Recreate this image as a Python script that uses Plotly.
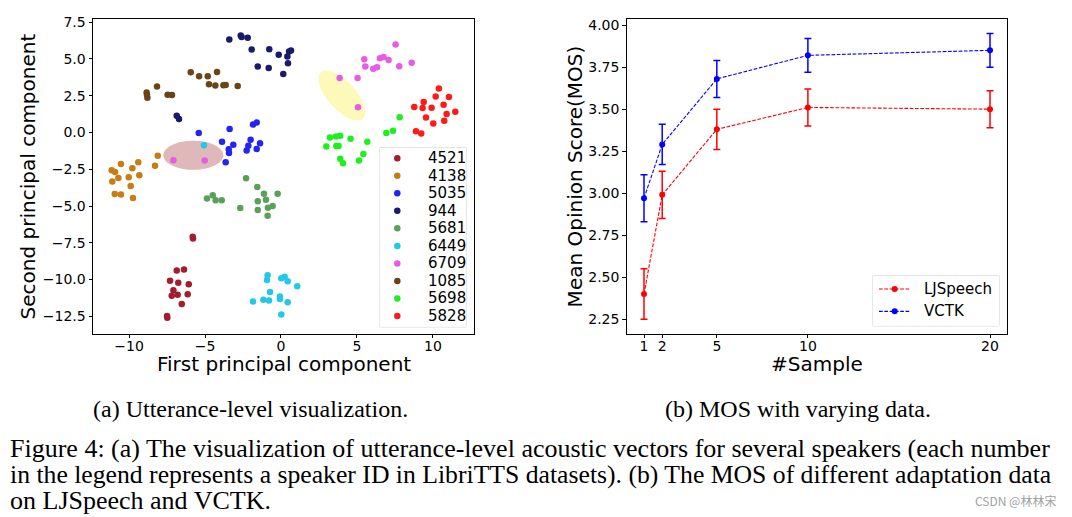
import math
import plotly.graph_objects as go

# The page body has an 8px margin, so the figure is placed at (8, 8) in the window.
# All positions below are given in window pixels and converted with OX/OY.
WIN_W, WIN_H = 1072, 517
OX, OY = 8, 8
W, H = WIN_W - OX, WIN_H - OY

# ---------------- data: left panel (PCA of utterance vectors) ----------------
speakers = ["4521", "4138", "5035", "944", "5681", "6449", "6709", "1085", "5698", "5828"]
colors = ["#a51c30", "#c97c14", "#2424f2", "#1a1a6c", "#59a059", "#22c9e6",
          "#e65ce6", "#6a4416", "#1ef01e", "#ff1a1a"]

x_4521 = [-5.81, -5.79, -6.86, -6.38, -7.30, -6.76, -6.07, -7.08, -7.19, -6.80, -6.14, -6.53, -7.50, -7.48]
y_4521 = [-7.09, -7.21, -9.38, -9.31, -10.08, -10.21, -10.32, -10.73, -11.11, -11.04, -11.00, -11.67, -12.48, -12.59]

x_4138 = [-8.11, -8.29, -10.53, -9.39, -9.78, -11.14, -10.92, -9.32, -10.02, -10.70, -11.10, -9.89, -10.94, -10.53, -9.74]
y_4138 = [-1.59, -2.26, -2.15, -2.02, -2.44, -2.56, -2.69, -2.90, -3.05, -3.10, -3.34, -3.64, -4.18, -4.22, -4.46]

x_5035 = [-5.41, -3.38, -1.84, -1.60, -3.88, -3.14, -3.44, -3.42, -3.64, -2.00, -1.38, -2.15, -2.26, -1.60]
y_5035 = [-0.04, 0.23, 0.54, 0.67, -0.63, -0.83, -1.14, -1.39, -2.02, -0.49, -0.74, -0.90, -1.23, -1.12]

x_944 = [-3.40, -2.65, -2.59, -2.19, -1.93, -0.77, -0.15, 0.42, 0.53, 0.66, 0.46, -1.53, -0.81, 0.15, -6.86, -6.71]
y_944 = [6.33, 6.60, 6.49, 6.44, 5.64, 5.66, 5.28, 5.16, 5.50, 5.57, 4.71, 4.49, 4.38, 3.97, 1.14, 0.92]

x_5681 = [-2.30, -1.56, -1.12, -0.22, -1.53, -0.99, -0.55, -0.86, -2.68, -1.53, -0.88, -4.87, -4.49, -4.30, -3.90]
y_5681 = [-3.12, -3.70, -4.17, -4.17, -4.67, -4.58, -5.00, -5.12, -5.14, -5.27, -5.66, -4.49, -4.26, -4.60, -4.60]

x_6449 = [-0.88, -0.92, 0.02, 0.24, 0.44, 1.07, -0.72, -0.07, -0.07, -1.16, -0.79, -1.84, 0.44, 0.02, -5.07]
y_6449 = [-9.70, -10.03, -9.92, -9.81, -10.12, -10.46, -10.84, -11.15, -11.33, -11.38, -11.42, -11.49, -11.54, -12.37, -0.87]

x_6709 = [7.54, 5.48, 6.51, 6.75, 7.08, 5.55, 6.07, 6.32, 7.78, 8.60, 3.86, 5.04, 5.07, -7.08, -5.02]
y_6709 = [5.99, 4.98, 5.05, 5.14, 4.92, 4.49, 4.34, 4.44, 4.51, 4.74, 3.70, 3.70, 1.71, -1.88, -1.91]

x_1085 = [-5.94, -5.39, -4.82, -4.21, -4.74, -4.32, -3.79, -3.64, -2.85, -8.16, -8.84, -8.82, -8.79, -7.46, -7.17]
y_1085 = [4.09, 3.82, 3.82, 4.11, 3.28, 3.19, 3.21, 3.23, 3.16, 3.12, 2.72, 2.56, 2.36, 2.56, 2.54]

x_5698 = [7.81, 7.37, 6.93, 5.68, 4.58, 3.90, 3.62, 3.22, 2.98, 3.64, 3.79, 5.42, 3.90, 4.08, 5.13]
y_5698 = [1.04, 0.11, -0.04, -0.63, -0.42, -0.22, -0.27, -0.34, -0.96, -0.92, -0.92, -1.46, -1.79, -2.09, -1.91]

x_5828 = [10.39, 10.18, 11.05, 9.39, 8.77, 9.32, 9.91, 10.70, 11.47, 10.90, 9.54, 10.74, 10.02, 8.88, 9.23]
y_5828 = [2.99, 2.45, 2.42, 2.07, 1.73, 1.66, 1.68, 1.89, 1.41, 1.26, 1.01, 0.79, 0.61, 0.09, -0.07]

xs = [x_4521, x_4138, x_5035, x_944, x_5681, x_6449, x_6709, x_1085, x_5698, x_5828]
ys = [y_4521, y_4138, y_5035, y_944, y_5681, y_6449, y_6709, y_1085, y_5698, y_5828]

left_xticks = [-10, -5, 0, 5, 10]
left_xticklabels = ["\u221210", "\u22125", "0", "5", "10"]
left_yticks = [7.5, 5.0, 2.5, 0.0, -2.5, -5.0, -7.5, -10.0, -12.5]
left_yticklabels = ["7.5", "5.0", "2.5", "0.0", "\u22122.5", "\u22125.0", "\u22127.5", "\u221210.0", "\u221212.5"]

# ---------------- data: right panel (MOS) ----------------
samples = [1, 2, 5, 10, 20]
series_names = ["LJSpeech", "VCTK"]
series_colors = ["#ff0000", "#0000ff"]
mos_ljspeech = [2.40, 2.99, 3.38, 3.51, 3.50]
err_ljspeech = [0.15, 0.14, 0.12, 0.11, 0.11]
mos_vctk = [2.97, 3.29, 3.68, 3.82, 3.85]
err_vctk = [0.14, 0.12, 0.11, 0.10, 0.10]
right_yticks = [2.25, 2.50, 2.75, 3.00, 3.25, 3.50, 3.75, 4.00]

# ---------------- layout geometry (window pixels) ----------------
L_X0, L_X1, L_Y0, L_Y1 = 93, 474, 14, 332
L_XR = [-12.37, 12.70]
L_YR = [-13.69, 7.72]
R_X0, R_X1, R_Y0, R_Y1 = 626.7, 1007.3, 14.3, 331.7
R_XR = [0.05, 20.95]
R_YR = [2.165, 4.035]


def px(x):
    return (x - OX) / W


def py(y):
    return 1 - (y - OY) / H


FONT = "DejaVu Sans"
TICK = 14
TITLE = 20
DASH = "3.7px,1.6px"

fig = go.Figure()

for sp, col, xv, yv in zip(speakers, colors, xs, ys):
    fig.add_trace(go.Scatter(x=xv, y=yv, mode="markers", name=sp,
                             marker=dict(color=col, size=6.5, line=dict(width=0)),
                             xaxis="x", yaxis="y", showlegend=False))

# legend of the left panel (matplotlib-like tight spacing), drawn on a helper axis
leg_idx = list(range(len(speakers)))
fig.add_trace(go.Scatter(x=[17.3] * len(speakers), y=leg_idx, mode="markers",
                         marker=dict(color=colors, size=6.5, line=dict(width=0)),
                         xaxis="x3", yaxis="y3", showlegend=False, hoverinfo="skip"))

for name, col, mos, err in zip(series_names, series_colors,
                               [mos_ljspeech, mos_vctk], [err_ljspeech, err_vctk]):
    fig.add_trace(go.Scatter(x=samples, y=mos, mode="lines+markers", name=name,
                             line=dict(color=col, width=1.1, dash=DASH),
                             marker=dict(color=col, size=6),
                             error_y=dict(type="data", array=err, color=col,
                                          thickness=1.5, width=3.5),
                             xaxis="x2", yaxis="y2", showlegend=False))

# legend of the right panel, on a helper axis (x in window px, y = row index)
for i, (name, col) in enumerate(zip(series_names, series_colors)):
    fig.add_trace(go.Scatter(x=[879, 894.7, 910], y=[i, i, i], mode="lines",
                             line=dict(color=col, width=1.1, dash=DASH),
                             xaxis="x4", yaxis="y4", showlegend=False, hoverinfo="skip"))
    fig.add_trace(go.Scatter(x=[894.7], y=[i], mode="markers",
                             marker=dict(color=col, size=6),
                             xaxis="x4", yaxis="y4", showlegend=False, hoverinfo="skip"))

axis_common = dict(showgrid=False, zeroline=False, showline=True, linecolor="black",
                   linewidth=1, mirror=True, ticks="outside", ticklen=3.5, tickwidth=0.8,
                   tickcolor="black", tickfont=dict(family=FONT, size=TICK, color="black"))

# ellipses (highlight regions) on the left panel
sx = (L_X1 - L_X0) / (L_XR[1] - L_XR[0])
sy = (L_Y1 - L_Y0) / (L_YR[1] - L_YR[0])


def ellipse_path(cx, cy, a_px, b_px, ang_deg, n=80):
    th = math.radians(ang_deg)
    pts = []
    for i in range(n):
        t = 2 * math.pi * i / n
        dx = a_px * math.cos(t) * math.cos(th) - b_px * math.sin(t) * math.sin(th)
        dy = a_px * math.cos(t) * math.sin(th) + b_px * math.sin(t) * math.cos(th)
        pts.append((cx + dx / sx, cy - dy / sy))
    return "M " + " L ".join(f"{x:.4f},{y:.4f}" for x, y in pts) + " Z"


LEG1 = (380, 466, 144, 325)
LEG2 = (873, 999, 273.3, 324)
LEG2_ROW0, LEG2_STEP = 286.7, 22.6

shapes = [
    dict(type="path", xref="x", yref="y", layer="below",
         path=ellipse_path(-5.77, -1.55, 30, 14.7, 0),
         fillcolor="#dfb9b9", line=dict(width=0)),
    dict(type="path", xref="x", yref="y", layer="below",
         path=ellipse_path(4.01, 2.51, 31.5, 14, 48),
         fillcolor="#fdf9b8", line=dict(width=0)),
    dict(type="rect", xref="paper", yref="paper", layer="below",
         x0=px(LEG1[0]), x1=px(LEG1[1]), y0=py(LEG1[3]), y1=py(LEG1[2]),
         fillcolor="white", line=dict(color="#d0d0d0", width=1)),
    dict(type="rect", xref="paper", yref="paper", layer="below",
         x0=px(LEG2[0]), x1=px(LEG2[1]), y0=py(LEG2[3]), y1=py(LEG2[2]),
         fillcolor="white", line=dict(color="#d0d0d0", width=1)),
]

annotations = []
for i, sp in enumerate(speakers):
    annotations.append(dict(x=46, y=i, xref="x3", yref="y3", text=sp, showarrow=False,
                            xanchor="left", yanchor="middle",
                            font=dict(family=FONT, size=15, color="black")))
for i, name in enumerate(series_names):
    annotations.append(dict(x=922, y=i, xref="x4", yref="y4", text=name, showarrow=False,
                            xanchor="left", yanchor="middle",
                            font=dict(family=FONT, size=15, color="black")))


def ann(text, x, y, size, family=FONT, angle=0, xanchor="center", color="black"):
    annotations.append(dict(x=px(x), y=py(y), xref="paper", yref="paper", text=text,
                            showarrow=False, xanchor=xanchor, yanchor="middle",
                            textangle=angle, font=dict(family=family, size=size, color=color)))


ann("Second principal component", 28, 173, TITLE, angle=-90)
ann("First principal component", (L_X0 + L_X1) / 2, 362, TITLE)
ann("Mean Opinion Score(MOS)", 575, 173, TITLE, angle=-90)
ann("#Sample", (R_X0 + R_X1) / 2, 362, TITLE)

SERIF = "Liberation Serif"
ann("(a) Utterance-level visualization.", 250.5, 408, 24, family=SERIF)
ann("(b) MOS with varying data.", 797.5, 408, 24, family=SERIF)
ann("Figure 4: (a) The visualization of utterance-level acoustic vectors for several speakers (each number",
    8, 448, 26.0, family=SERIF, xanchor="left")
ann("in the legend represents a speaker ID in LibriTTS datasets). (b) The MOS of different adaptation data",
    8, 474, 25.7, family=SERIF, xanchor="left")
ann("on LJSpeech and VCTK.", 8, 500, 26.0, family=SERIF, xanchor="left")
ann("CSDN @林林宋", 1058, 500, 12, family="Noto Sans CJK SC", xanchor="right", color="#a0a0a0")

fig.update_layout(
    width=W, height=H,
    margin=dict(l=0, r=0, t=0, b=0),
    paper_bgcolor="white", plot_bgcolor="white",
    showlegend=False,
    xaxis=dict(domain=[px(L_X0), px(L_X1)], range=L_XR, anchor="y",
               tickvals=left_xticks, ticktext=left_xticklabels,
               ticklabelstandoff=-4, **axis_common),
    yaxis=dict(domain=[py(L_Y1), py(L_Y0)], range=L_YR, anchor="x",
               tickvals=left_yticks, ticktext=left_yticklabels, **axis_common),
    xaxis2=dict(domain=[px(R_X0), px(R_X1)], range=R_XR, anchor="y2",
                tickvals=samples, ticktext=[str(s) for s in samples],
                ticklabelstandoff=-4, **axis_common),
    yaxis2=dict(domain=[py(R_Y1), py(R_Y0)], range=R_YR, anchor="x2",
                tickvals=right_yticks, ticktext=[f"{v:.2f}" for v in right_yticks], **axis_common),
    xaxis3=dict(domain=[px(LEG1[0]), px(LEG1[1])], range=[0, LEG1[1] - LEG1[0]], anchor="y3",
                visible=False, fixedrange=True),
    yaxis3=dict(domain=[py(LEG1[3]), py(LEG1[2])],
                range=[(LEG1[3] - 154.7) / 17.7, -(154.7 - LEG1[2]) / 17.7],
                anchor="x3", visible=False, fixedrange=True),
    xaxis4=dict(domain=[px(LEG2[0]), px(LEG2[1])], range=[LEG2[0], LEG2[1]], anchor="y4",
                visible=False, fixedrange=True),
    yaxis4=dict(domain=[py(LEG2[3]), py(LEG2[2])],
                range=[(LEG2[3] - LEG2_ROW0) / LEG2_STEP, -(LEG2_ROW0 - LEG2[2]) / LEG2_STEP],
                anchor="x4", visible=False, fixedrange=True),
    shapes=shapes,
    annotations=annotations,
)

fig.write_html("out.html")
